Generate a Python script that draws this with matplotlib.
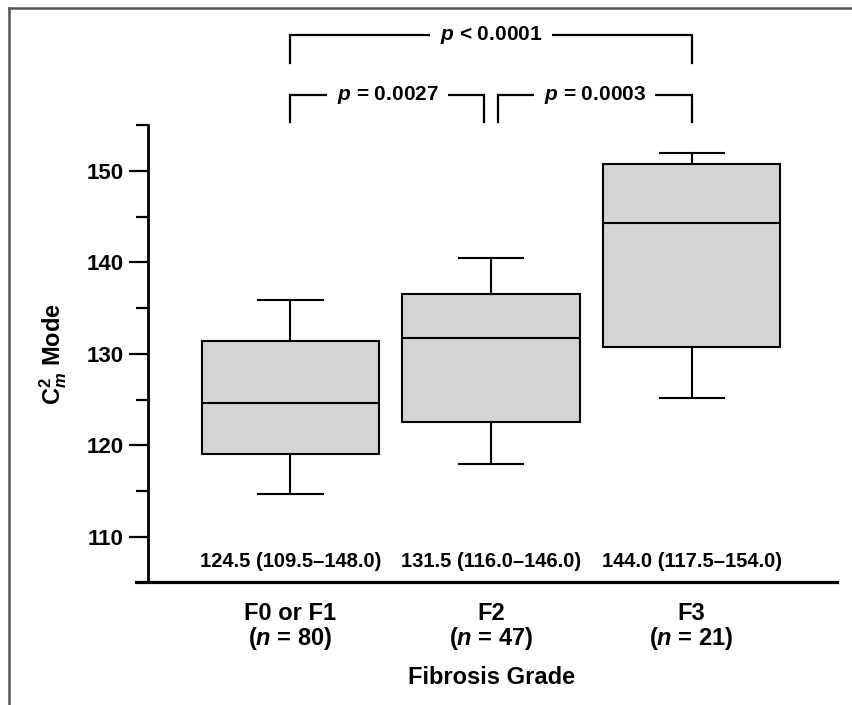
import matplotlib
matplotlib.use('Agg')
import matplotlib.pyplot as plt
from matplotlib.lines import Line2D

# Box plot summary (C2m mode by fibrosis grade)
groups = ['F0 or F1', 'F2', 'F3']
group_n = [80, 47, 21]
medians = [124.6, 131.7, 144.3]
q1 = [119.0, 122.5, 130.7]
q3 = [131.4, 136.6, 150.8]
whis_low = [114.7, 118.0, 125.2]
whis_high = [135.9, 140.5, 152.0]
summary_labels = ['124.5 (109.5–148.0)', '131.5 (116.0–146.0)', '144.0 (117.5–154.0)']
y_ticks = [110, 120, 130, 140, 150]
y_minor = [115, 125, 135, 145, 155]

# pairwise comparisons: (group a, group b, label)
comparisons_low = [(1, 2, '$p$ = 0.0027'), (2, 3, '$p$ = 0.0003')]
comparison_top = (1, 3, '$p$ < 0.0001')

plt.rcParams['font.family'] = ['Liberation Sans', 'DejaVu Sans']
plt.rcParams['font.weight'] = 'bold'
plt.rcParams['axes.labelweight'] = 'bold'
plt.rcParams['mathtext.fontset'] = 'custom'
plt.rcParams['mathtext.rm'] = 'Liberation Sans:bold'
plt.rcParams['mathtext.it'] = 'Liberation Sans:italic:bold'
plt.rcParams['mathtext.bf'] = 'Liberation Sans:bold'

fig = plt.figure(figsize=(8.52, 7.05), dpi=100)
ax = fig.add_axes([0.1596, 0.1738, 0.8228, 0.6485])

positions = [1, 2, 3]
stats = []
for i in range(len(groups)):
    stats.append({'med': medians[i], 'q1': q1[i], 'q3': q3[i],
                  'whislo': whis_low[i], 'whishi': whis_high[i], 'fliers': []})

lw = 1.5
ax.bxp(stats, positions=positions, widths=0.885, capwidths=0.32,
       patch_artist=True, showfliers=False,
       boxprops=dict(facecolor='#d3d4d6', edgecolor='black', linewidth=lw),
       medianprops=dict(color='black', linewidth=lw),
       whiskerprops=dict(color='black', linewidth=lw),
       capprops=dict(color='black', linewidth=lw))

# axis layout
ax.set_xlim(0.2296, 3.725)
ax.set_ylim(105, 155)
ax.spines['top'].set_visible(False)
ax.spines['right'].set_visible(False)
ax.spines['left'].set_position(('data', 0.2895))
ax.spines['left'].set_linewidth(2.0)
ax.spines['bottom'].set_linewidth(2.3)

ax.set_yticks(y_ticks)
ax.set_yticks(y_minor, minor=True)
ax.tick_params(axis='y', which='major', length=13.7, width=1.6, pad=4, labelsize=16)
ax.tick_params(axis='y', which='minor', length=8.6, width=1.6)
ax.set_xticks(positions)
ax.set_xticklabels([f'{g}\n($n$ = {n})' for g, n in zip(groups, group_n)],
                   fontsize=17, linespacing=1.0)
ax.tick_params(axis='x', length=0, pad=14)

ax.set_ylabel(r'$\mathrm{C}_{m}^{\mathrm{2}}$ Mode', fontsize=17, fontweight='bold')
ax.yaxis.set_label_coords(-0.095, 0.5)
ax.set_xlabel('Fibrosis Grade', fontsize=17, fontweight='bold')
ax.xaxis.set_label_coords(0.5066, -0.182)

# median (range) under each box
for pos, txt in zip(positions, summary_labels):
    ax.text(pos, 107.3, txt, ha='center', va='center', fontsize=14.5)

# significance brackets above the axes
def bracket(x1, x2, y_line, y_end, label):
    ax.plot([x1, x1, x2, x2], [y_end, y_line, y_line, y_end], color='black',
            linewidth=1.6, clip_on=False, solid_joinstyle='miter')
    ax.text((x1 + x2) / 2, y_line, label, ha='center', va='center', fontsize=15,
            clip_on=False, zorder=4,
            bbox=dict(facecolor='white', edgecolor='none', pad=7))

gap = 0.033
for a, b, label in comparisons_low:
    x1 = a + (gap if a == 2 else 0)
    x2 = b - (gap if b == 2 else 0)
    bracket(x1, x2, 158.3, 155.4, label)
a, b, label = comparison_top
bracket(a, b, 164.9, 161.8, label)

# page frame (top and left edges)
fig.add_artist(Line2D([0.0100, 1.0], [0.9886, 0.9886], transform=fig.transFigure,
                      color='#555555', linewidth=1.8))
fig.add_artist(Line2D([0.0100, 0.0100], [0.0, 0.9886], transform=fig.transFigure,
                      color='#555555', linewidth=1.8))

fig.savefig('out.png', dpi=100)
